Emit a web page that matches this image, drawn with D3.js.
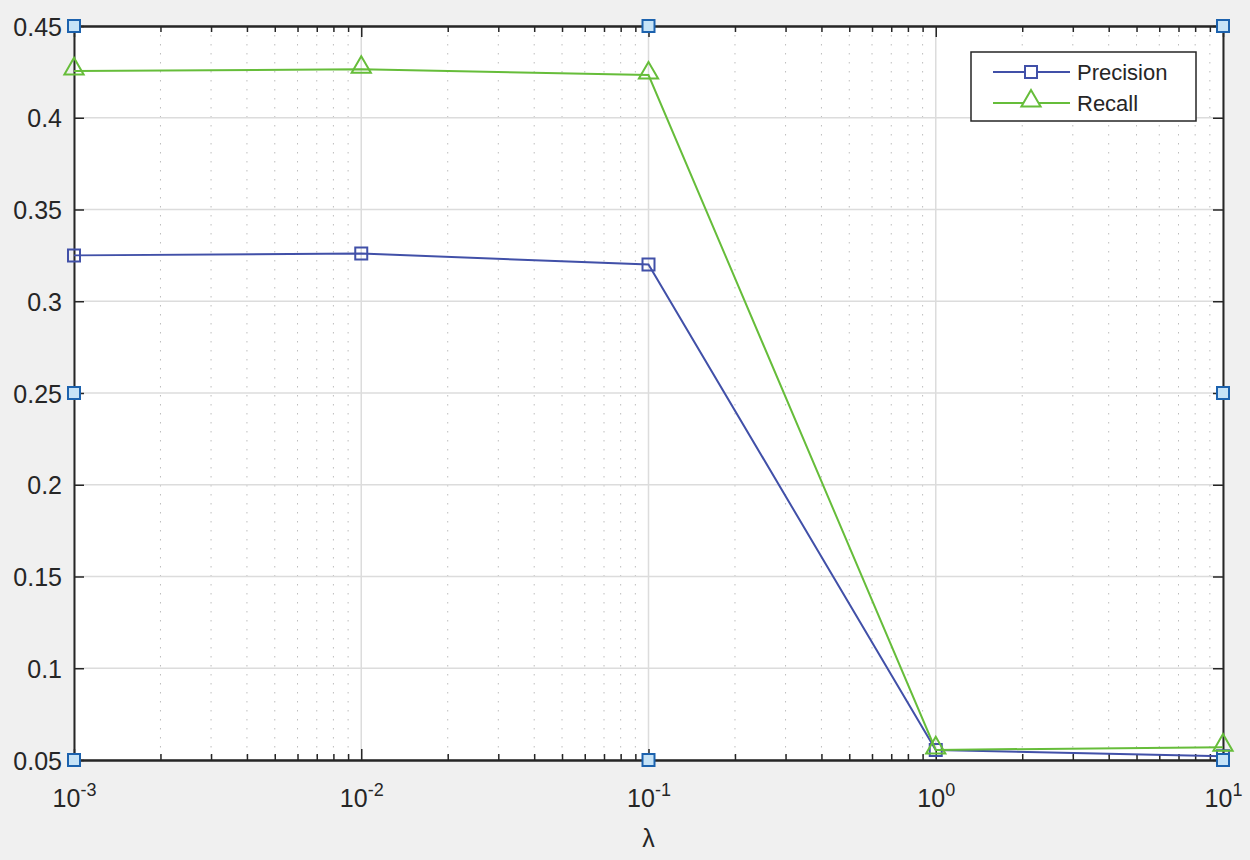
<!DOCTYPE html>
<html>
<head>
<meta charset="utf-8">
<script src="https://cdn.jsdelivr.net/npm/d3@7"></script>
<style>
  body { margin: 0; background: #f0f0f0; }
  svg text { font-family: "Liberation Sans", Arial, Helvetica, sans-serif; fill: #262626; }
</style>
</head>
<body>
<svg id="chart"></svg>
<script>
// lambda values (x) and the two series
const lambdas = [1e-3, 1e-2, 1e-1, 1e0, 1e1];
const precision = [0.325, 0.326, 0.320, 0.0555, 0.052];
const recall = [0.4255, 0.4264, 0.4233, 0.0555, 0.057];
const yTicks = [0.05, 0.1, 0.15, 0.2, 0.25, 0.3, 0.35, 0.4, 0.45];
const xTicks = [1e-3, 1e-2, 1e-1, 1e0, 1e1];
const xTickExp = ["-3", "-2", "-1", "0", "1"];
const seriesNames = ["Precision", "Recall"];
// selection handles seen on the figure (data coords)
const handles = [[1e-3, 0.45], [1e-1, 0.45], [1e1, 0.45], [1e-3, 0.25], [1e1, 0.25], [1e-3, 0.05], [1e-1, 0.05], [1e1, 0.05]];

const W = 1250, H = 860;
const margin = { top: 26, right: 27, bottom: 100, left: 74 };
const width = W - margin.left - margin.right;
const height = H - margin.top - margin.bottom;

const svg = d3.select("#chart").attr("width", W).attr("height", H);
svg.append("rect").attr("width", W).attr("height", H).attr("fill", "#f0f0f0");

const g = svg.append("g").attr("transform", "translate(" + margin.left + "," + margin.top + ")");

const x = d3.scaleLog().domain([1e-3, 1e1]).range([0, width]);
const y = d3.scaleLinear().domain([0.05, 0.45]).range([height, 0]);

g.append("rect").attr("width", width).attr("height", height).attr("fill", "white");

// minor x values 2..9 per decade
const minorX = [];
for (let e = -3; e < 1; e++) {
    for (let m = 2; m <= 9; m++) minorX.push(m * Math.pow(10, e));
}

// minor grid (dotted)
g.selectAll(".minor-grid").data(minorX).enter().append("line")
    .attr("x1", d => x(d)).attr("x2", d => x(d))
    .attr("y1", 0).attr("y2", height)
    .attr("stroke", "#bdbdbd").attr("stroke-width", 1)
    .attr("stroke-dasharray", "1.5,7.5");

// major grid
g.selectAll(".xgrid").data(xTicks).enter().append("line")
    .attr("x1", d => x(d)).attr("x2", d => x(d))
    .attr("y1", 0).attr("y2", height)
    .attr("stroke", "#dcdcdc").attr("stroke-width", 1.5);
g.selectAll(".ygrid").data(yTicks).enter().append("line")
    .attr("x1", 0).attr("x2", width)
    .attr("y1", d => y(d)).attr("y2", d => y(d))
    .attr("stroke", "#dcdcdc").attr("stroke-width", 1.5);

// axes
function styleAxis(sel) {
    sel.selectAll("path").attr("stroke", "#262626").attr("stroke-width", 2);
    sel.selectAll("line").attr("stroke", "#262626").attr("stroke-width", 1.5);
    sel.selectAll("text").style("font-size", "25px").attr("fill", "#262626");
}

const yAxis = g.append("g")
    .call(d3.axisLeft(y).tickValues(yTicks).tickSize(-10).tickSizeOuter(0).tickPadding(12)
        .tickFormat(d => String(+d.toFixed(2))));
styleAxis(yAxis);
yAxis.selectAll("text").attr("dy", "0.36em");

g.append("g").attr("transform", "translate(" + width + ",0)")
    .call(d3.axisRight(y).tickValues(yTicks).tickSize(-10).tickSizeOuter(0).tickFormat(""))
    .call(styleAxis);

const xAxis = g.append("g").attr("transform", "translate(0," + height + ")")
    .call(d3.axisBottom(x).tickValues(xTicks).tickSize(-11).tickSizeOuter(0).tickPadding(29).tickFormat(""));
styleAxis(xAxis);
xAxis.selectAll(".tick text").each(function (d, i) {
    const t = d3.select(this);
    t.attr("dy", "0.71em").attr("x", 0).style("font-size", "25px");
    t.append("tspan").text("10");
    t.append("tspan").text(xTickExp[i]).attr("dy", "-0.6em").style("font-size", "18px");
});

g.append("g").attr("transform", "translate(0," + height + ")")
    .call(d3.axisBottom(x).tickValues(minorX).tickSize(-6).tickSizeOuter(0).tickFormat(""))
    .call(styleAxis);

g.append("g")
    .call(d3.axisTop(x).tickValues(xTicks).tickSize(-11).tickSizeOuter(0).tickFormat(""))
    .call(styleAxis);
g.append("g")
    .call(d3.axisTop(x).tickValues(minorX).tickSize(-6).tickSizeOuter(0).tickFormat(""))
    .call(styleAxis);

// x label
svg.append("text")
    .attr("x", margin.left + width / 2).attr("y", 847)
    .attr("text-anchor", "middle")
    .style("font-size", "25px")
    .text("λ");

// series
const colors = ["#4150a8", "#66bd3a"];
const seriesData = [precision, recall];

const line = d3.line().x(d => x(d[0])).y(d => y(d[1]));

const sqr = d3.symbol().type(d3.symbolSquare).size(144);
const tri = d3.symbol().type(d3.symbolTriangle).size(160);
const shapes = [sqr, tri];

seriesData.forEach((vals, s) => {
    const pts = lambdas.map((l, i) => [l, vals[i]]);
    g.append("path").datum(pts)
        .attr("d", line)
        .attr("fill", "none")
        .attr("stroke", colors[s])
        .attr("stroke-width", 2);
    g.selectAll(".m" + s).data(pts).enter().append("path")
        .attr("transform", d => "translate(" + x(d[0]) + "," + (y(d[1]) + (s === 1 ? -2 : 0)) + ")")
        .attr("d", shapes[s]())
        .attr("fill", "none")
        .attr("stroke", colors[s])
        .attr("stroke-width", 2);
});

// blue handles
g.selectAll(".handle").data(handles).enter().append("rect")
    .attr("x", d => x(d[0]) - 6).attr("y", d => y(d[1]) - 6)
    .attr("width", 12).attr("height", 12)
    .attr("fill", "#c6e3f7")
    .attr("stroke", "#1c62ae")
    .attr("stroke-width", 2);

// legend
const legend = svg.append("g").attr("transform", "translate(971,52)");
legend.append("rect").attr("width", 225).attr("height", 69)
    .attr("fill", "white").attr("stroke", "#262626").attr("stroke-width", 1.5);
seriesNames.forEach((name, i) => {
    const ly = 20 + i * 31;
    legend.append("line").attr("x1", 22).attr("x2", 99).attr("y1", ly).attr("y2", ly)
        .attr("stroke", colors[i]).attr("stroke-width", 2);
    legend.append("path")
        .attr("transform", "translate(60," + (ly + (i === 1 ? -2 : 0)) + ")")
        .attr("d", shapes[i]())
        .attr("fill", "white")
        .attr("stroke", colors[i])
        .attr("stroke-width", 2);
    legend.append("text").attr("x", 106).attr("y", ly)
        .attr("dy", "0.36em")
        .style("font-size", "22px")
        .text(name);
});
</script>
</body>
</html>
